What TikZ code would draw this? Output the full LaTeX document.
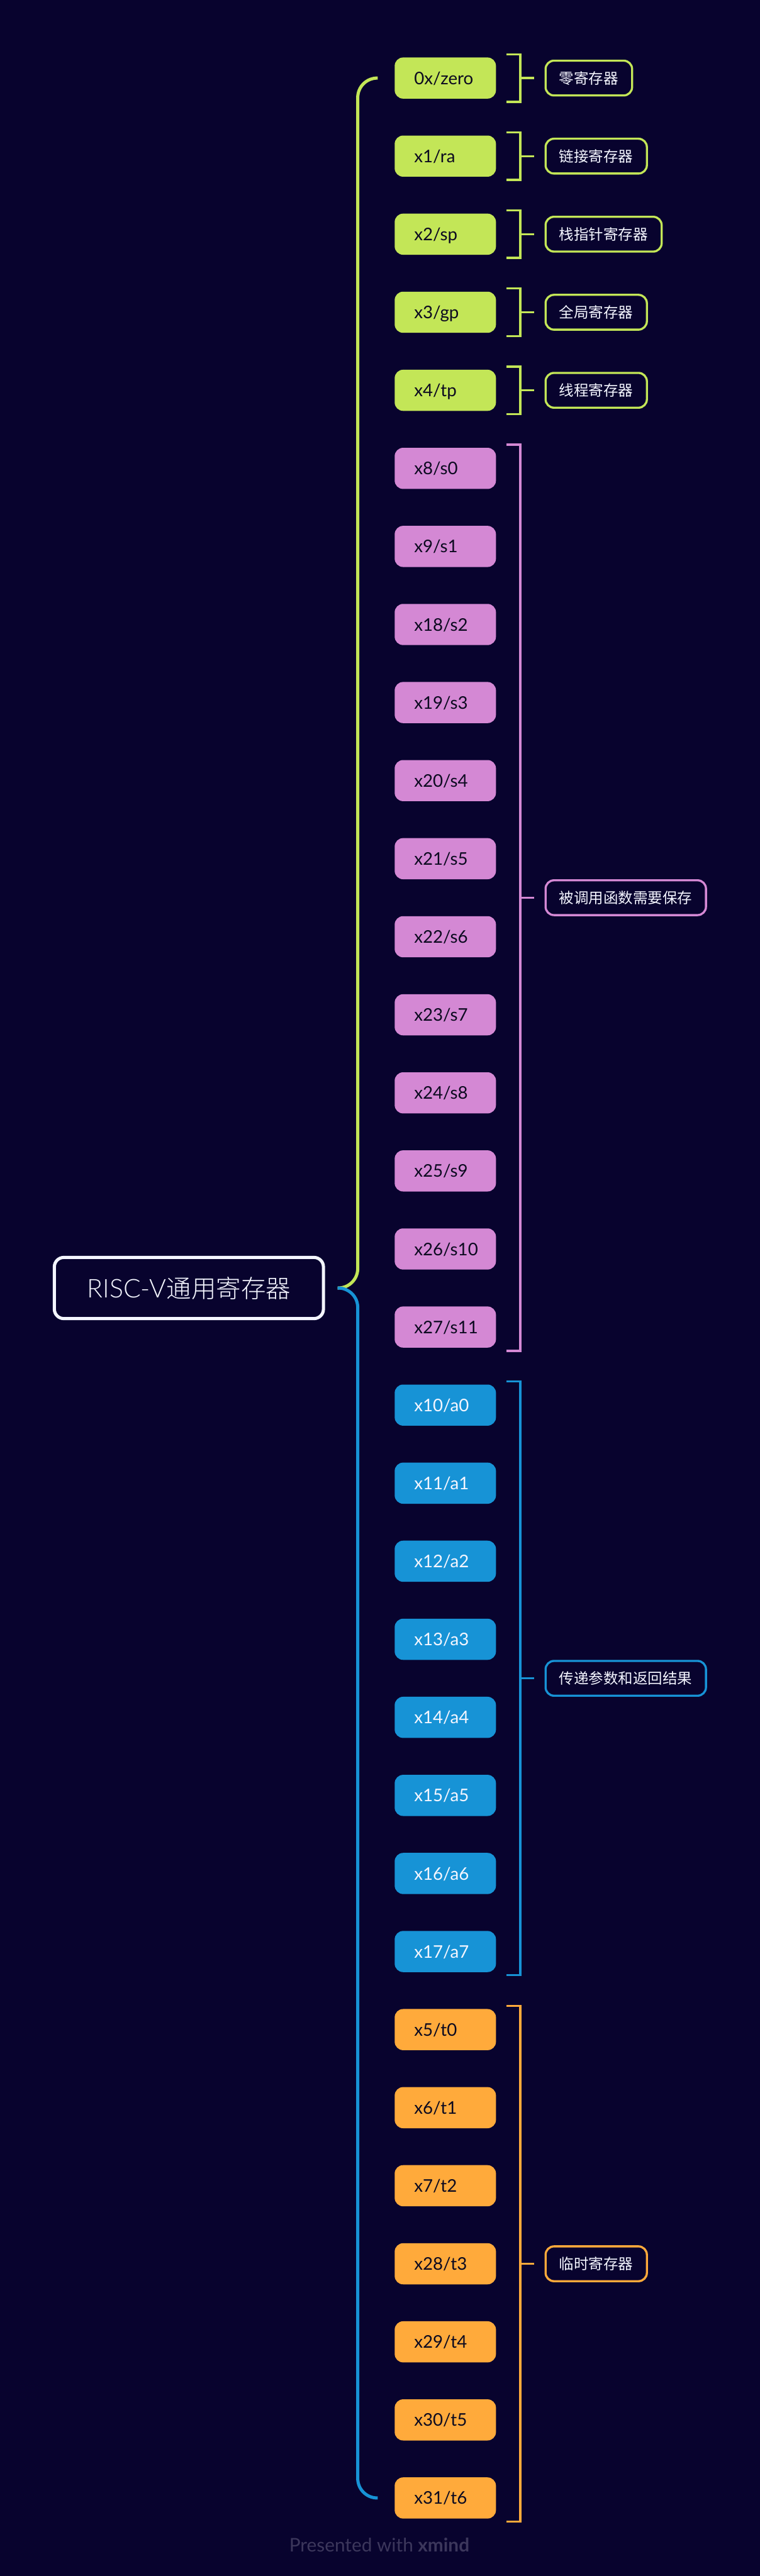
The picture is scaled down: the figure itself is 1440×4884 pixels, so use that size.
\documentclass[tikz,border=0pt]{standalone}
\usepackage{fontspec}
\setmainfont{Lato}
\newfontfamily\rootfont[UprightFont=* Light]{Lato}
\newfontfamily\cjkfont{Noto Sans CJK SC}
\newfontfamily\cjklight[UprightFont=* Light]{Noto Sans CJK SC}
\definecolor{bgnavy}{HTML}{08032E}
\definecolor{rootwhite}{HTML}{F4F6FF}
\definecolor{darkink}{HTML}{0C0A20}
\definecolor{specgreen}{HTML}{C3E657}
\definecolor{savedpink}{HTML}{D488D4}
\definecolor{argblue}{HTML}{1793D6}
\definecolor{temporange}{HTML}{FFAA3B}
\definecolor{footgrey}{HTML}{3C375C}
\tikzset{
    regbox/.style={fill=#1, rounded corners=16pt, minimum height=78pt, inner xsep=37pt, inner ysep=0pt, outer sep=0pt,
        text width=118pt, align=left, text height=31pt, text depth=7pt, text=darkink, font=\fontsize{33}{33}\selectfont},
    tagbox/.style={draw=#1, line width=4pt, rounded corners=16pt, minimum height=66pt, inner sep=0pt, anchor=west,
        text=rootwhite, font=\fontsize{28}{28}\cjkfont},
    bracket/.style={draw=#1, line width=4pt},
    trunk/.style={draw=#1, line width=6pt, rounded corners=37pt, shorten <=24pt, shorten >=32pt}
}
\begin{document}
\begin{tikzpicture}[x=1pt,y=-1pt]
    \useasboundingbox (0,0) rectangle (1440,4884);
    \fill[bgnavy] (0,0) rectangle (1440,4884);

    \node[draw=rootwhite, line width=6pt, rounded corners=18pt, minimum width=510pt, minimum height=116pt, inner sep=0pt, text=rootwhite] (root) at (358,2442) {\fontsize{49}{49}\rootfont RISC-V\fontsize{47}{47}\cjklight 通用寄存器};

    \node[regbox=specgreen] (zero) at (844,148) {0x/zero};
    \node[regbox=specgreen] (ra) at (844,296) {x1/ra};
    \node[regbox=specgreen] (sp) at (844,444) {x2/sp};
    \node[regbox=specgreen] (gp) at (844,592) {x3/gp};
    \node[regbox=specgreen] (tp) at (844,740) {x4/tp};

    \node[regbox=savedpink] (s0) at (844,888) {x8/s0};
    \node[regbox=savedpink] (s1) at (844,1036) {x9/s1};
    \node[regbox=savedpink] (s2) at (844,1184) {x18/s2};
    \node[regbox=savedpink] (s3) at (844,1332) {x19/s3};
    \node[regbox=savedpink] (s4) at (844,1480) {x20/s4};
    \node[regbox=savedpink] (s5) at (844,1628) {x21/s5};
    \node[regbox=savedpink] (s6) at (844,1776) {x22/s6};
    \node[regbox=savedpink] (s7) at (844,1924) {x23/s7};
    \node[regbox=savedpink] (s8) at (844,2072) {x24/s8};
    \node[regbox=savedpink] (s9) at (844,2220) {x25/s9};
    \node[regbox=savedpink] (s10) at (844,2368) {x26/s10};
    \node[regbox=savedpink] (s11) at (844,2516) {x27/s11};

    \node[regbox=argblue, text=rootwhite] (a0) at (844,2664) {x10/a0};
    \node[regbox=argblue, text=rootwhite] (a1) at (844,2812) {x11/a1};
    \node[regbox=argblue, text=rootwhite] (a2) at (844,2960) {x12/a2};
    \node[regbox=argblue, text=rootwhite] (a3) at (844,3108) {x13/a3};
    \node[regbox=argblue, text=rootwhite] (a4) at (844,3256) {x14/a4};
    \node[regbox=argblue, text=rootwhite] (a5) at (844,3404) {x15/a5};
    \node[regbox=argblue, text=rootwhite] (a6) at (844,3552) {x16/a6};
    \node[regbox=argblue, text=rootwhite] (a7) at (844,3700) {x17/a7};

    \node[regbox=temporange] (t0) at (844,3848) {x5/t0};
    \node[regbox=temporange] (t1) at (844,3996) {x6/t1};
    \node[regbox=temporange] (t2) at (844,4144) {x7/t2};
    \node[regbox=temporange] (t3) at (844,4292) {x28/t3};
    \node[regbox=temporange] (t4) at (844,4440) {x29/t4};
    \node[regbox=temporange] (t5) at (844,4588) {x30/t5};
    \node[regbox=temporange] (t6) at (844,4736) {x31/t6};

    \node[tagbox=specgreen, minimum width=164pt] (zerotag) at (1032,148) {零寄存器};
    \node[tagbox=specgreen, minimum width=192pt] (ratag) at (1032,296) {链接寄存器};
    \node[tagbox=specgreen, minimum width=220pt] (sptag) at (1032,444) {栈指针寄存器};
    \node[tagbox=specgreen, minimum width=192pt] (gptag) at (1032,592) {全局寄存器};
    \node[tagbox=specgreen, minimum width=192pt] (tptag) at (1032,740) {线程寄存器};
    \node[tagbox=savedpink, minimum width=304pt] (savedtag) at (1032,1702) {被调用函数需要保存};
    \node[tagbox=argblue, minimum width=304pt] (argtag) at (1032,3182) {传递参数和返回结果};
    \node[tagbox=temporange, minimum width=192pt] (temptag) at (1032,4292) {临时寄存器};

    \node[text=footgrey, font=\fontsize{35.5}{36}\selectfont] (footer) at (719,4825) {Presented with \textbf{xmind}};

    % trunks from the root
    \draw[trunk=specgreen] (root.east) -- (678,2442) -- (678,148) -- (zero.west);
    \draw[trunk=argblue] (root.east) -- (678,2442) -- (678,4736) -- (t6.west);

    % brackets
    \draw[bracket=specgreen] ([xshift=20pt,yshift=6pt]zero.north east) -| ([xshift=46pt,yshift=-6pt]zero.south east) -- ([xshift=20pt,yshift=-6pt]zero.south east);
    \draw[bracket=specgreen] ([xshift=20pt,yshift=6pt]ra.north east) -| ([xshift=46pt,yshift=-6pt]ra.south east) -- ([xshift=20pt,yshift=-6pt]ra.south east);
    \draw[bracket=specgreen] ([xshift=20pt,yshift=6pt]sp.north east) -| ([xshift=46pt,yshift=-6pt]sp.south east) -- ([xshift=20pt,yshift=-6pt]sp.south east);
    \draw[bracket=specgreen] ([xshift=20pt,yshift=6pt]gp.north east) -| ([xshift=46pt,yshift=-6pt]gp.south east) -- ([xshift=20pt,yshift=-6pt]gp.south east);
    \draw[bracket=specgreen] ([xshift=20pt,yshift=6pt]tp.north east) -| ([xshift=46pt,yshift=-6pt]tp.south east) -- ([xshift=20pt,yshift=-6pt]tp.south east);
    \draw[bracket=savedpink] ([xshift=20pt,yshift=6pt]s0.north east) -| ([xshift=46pt,yshift=-6pt]s11.south east) -- ([xshift=20pt,yshift=-6pt]s11.south east);
    \draw[bracket=argblue] ([xshift=20pt,yshift=6pt]a0.north east) -| ([xshift=46pt,yshift=-6pt]a7.south east) -- ([xshift=20pt,yshift=-6pt]a7.south east);
    \draw[bracket=temporange] ([xshift=20pt,yshift=6pt]t0.north east) -| ([xshift=46pt,yshift=-6pt]t6.south east) -- ([xshift=20pt,yshift=-6pt]t6.south east);

    % ticks to the tags
    \draw[bracket=specgreen, shorten >=20pt] ([xshift=46pt]zero.east) -- (zerotag.west);
    \draw[bracket=specgreen, shorten >=20pt] ([xshift=46pt]ra.east) -- (ratag.west);
    \draw[bracket=specgreen, shorten >=20pt] ([xshift=46pt]sp.east) -- (sptag.west);
    \draw[bracket=specgreen, shorten >=20pt] ([xshift=46pt]gp.east) -- (gptag.west);
    \draw[bracket=specgreen, shorten >=20pt] ([xshift=46pt]tp.east) -- (tptag.west);
    \draw[bracket=savedpink, shorten >=20pt] ([xshift=46pt]s0.east |- savedtag.west) -- (savedtag.west);
    \draw[bracket=argblue, shorten >=20pt] ([xshift=46pt]a0.east |- argtag.west) -- (argtag.west);
    \draw[bracket=temporange, shorten >=20pt] ([xshift=46pt]t3.east) -- (temptag.west);
\end{tikzpicture}
\end{document}
